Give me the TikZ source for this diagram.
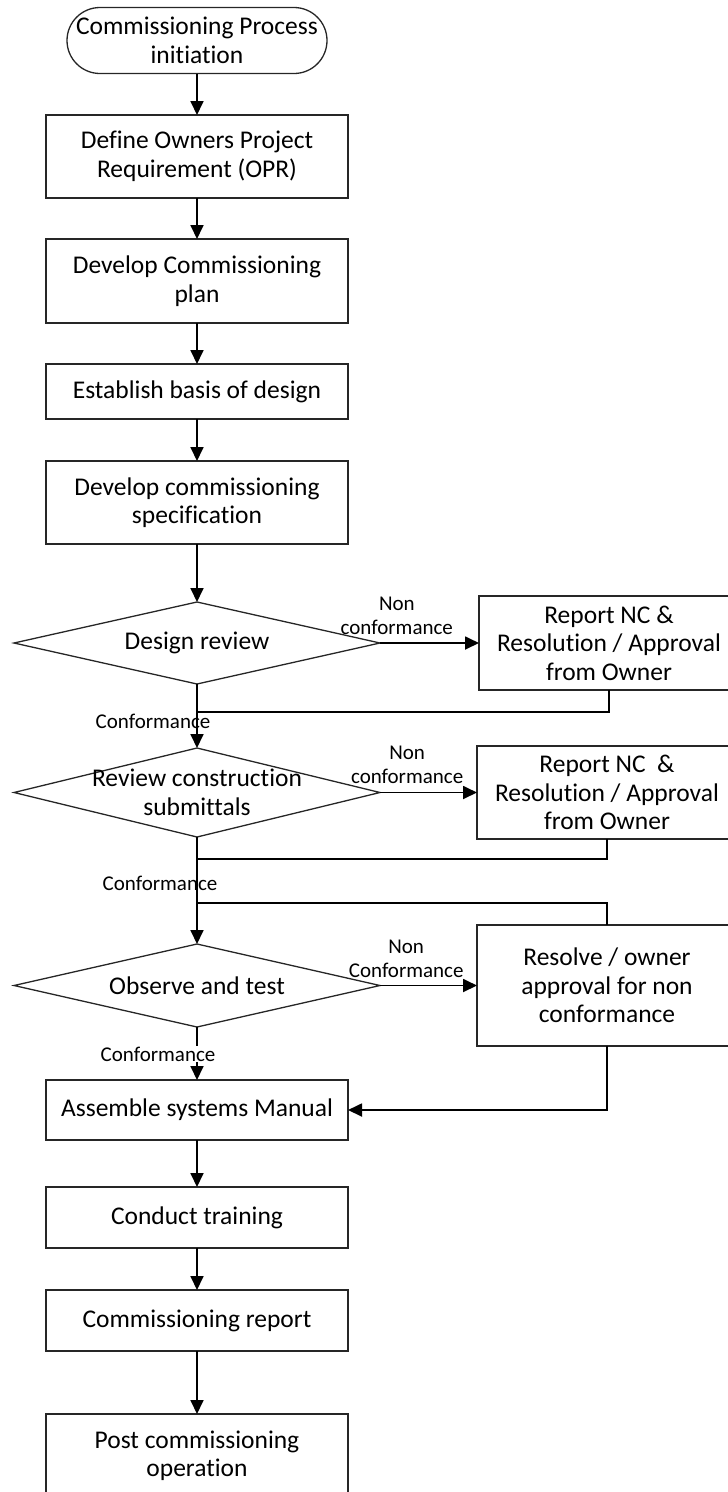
\documentclass[tikz,border=0pt]{standalone}
\usepackage{fontspec}
\setmainfont{Carlito}[Ligatures=NoCommon]
\usetikzlibrary{positioning,arrows.meta,shapes.geometric}

\begin{document}
\begin{tikzpicture}[
  x=1pt, y=1pt,
  node distance=41pt,
  every node/.style={font=\fontsize{25.5}{28.5}\selectfont},
  terminal/.style={rectangle, rounded corners=33pt, draw=black!85, line width=1.3pt, minimum width=260pt, minimum height=66pt, inner sep=0pt, outer sep=0pt, align=center},
  process/.style={rectangle, draw=black!85, line width=1.3pt, minimum width=302pt, inner sep=0pt, outer sep=0pt, align=center},
  sidebox/.style={rectangle, draw=black!85, line width=1.3pt, minimum width=260pt, inner sep=0pt, outer sep=0pt, align=center},
  decision/.style={diamond, draw=black!85, line width=1.3pt, minimum width=366pt, inner sep=0pt, outer sep=0pt},
  flow/.style={line width=1.8pt, -{Triangle[length=14pt,width=13pt]}},
  link/.style={line width=1.8pt},
  tag/.style={font=\fontsize{21}{24}\selectfont, align=center, inner sep=1pt}
]
  \useasboundingbox (0,0) rectangle (728,-1492);
  \clip (0,0) rectangle (728,-1492);

  % main column
  \node (start) [terminal] at (197,-40.5) {Commissioning Process\\initiation};
  \node (opr) [process, minimum height=83pt, below=41.5pt of start] {Define Owners Project\\Requirement (OPR)};
  \node (plan) [process, minimum height=84pt, below=of opr] {Develop Commissioning\\plan};
  \node (basis) [process, minimum height=55pt, below=of plan] {Establish basis of design};
  \node (spec) [process, minimum height=83pt, below=42pt of basis] {Develop commissioning\\specification};
  \node (design) [decision, minimum height=82pt, below=58pt of spec, label={center:Design review}] {};
  \node (submit) [decision, minimum height=89pt, below=64pt of design, label={[align=center]center:Review construction\\submittals}] {};
  \node (observe) [decision, minimum height=83pt, below=107pt of submit, label={center:Observe and test}] {};
  \node (manual) [process, minimum height=60pt, below=53pt of observe] {Assemble systems Manual};
  \node (train) [process, minimum height=61pt, below=47pt of manual] {Conduct training};
  \node (report) [process, minimum height=61pt, below=42pt of train] {Commissioning report};
  \node (post) [process, minimum height=84pt, below=63pt of report] {Post commissioning\\operation};

  % non conformance boxes
  \node (ncdesign) [sidebox, minimum height=94pt, right=99pt of design] {Report NC \&\\Resolution / Approval\\from Owner};
  \node (ncsubmit) [sidebox, minimum height=93pt, right=97pt of submit] {Report NC~ \&\\Resolution / Approval\\from Owner};
  \node (ncobserve) [sidebox, minimum height=121pt, right=97pt of observe] {Resolve / owner\\approval for non\\conformance};

  \draw[flow] (start) -- (opr);
  \draw[flow] (opr) -- (plan);
  \draw[flow] (plan) -- (basis);
  \draw[flow] (basis) -- (spec);
  \draw[flow] (spec) -- (design);
  \draw[flow] (design) -- node[tag, pos=0.59, xshift=-44pt] {Conformance} (submit);
  \draw[flow] (submit) -- node[tag, pos=0.43, xshift=-37pt] {Conformance} (observe);
  \draw[flow] (observe) -- node[tag, pos=0.51, xshift=-39pt, fill=white] {Conformance} (manual);
  \draw[flow] (manual) -- (train);
  \draw[flow] (train) -- (report);
  \draw[flow] (report) -- (post);

  \draw[flow] (design) -- node[tag, pos=0.17, yshift=27.5pt] {Non\\conformance} (ncdesign);
  \draw[flow] (submit) -- node[tag, pos=0.28, yshift=27.5pt] {Non\\conformance} (ncsubmit);
  \draw[flow] (observe) -- node[tag, pos=0.27, yshift=26.5pt] {Non\\Conformance} (ncobserve);

  % back to the main line
  \coordinate (backdesign) at ([yshift=-28pt]design.south);
  \coordinate (backsubmit) at ([yshift=-22pt]submit.south);
  \coordinate (backobserve) at ([yshift=41pt]observe.north);
  \draw[link] (ncdesign.south) |- (backdesign);
  \draw[link] (ncsubmit.south) |- (backsubmit);
  \draw[link] (ncobserve.north) |- (backobserve);
  \draw[flow] (ncobserve.south) |- (manual.east);
\end{tikzpicture}
\end{document}
